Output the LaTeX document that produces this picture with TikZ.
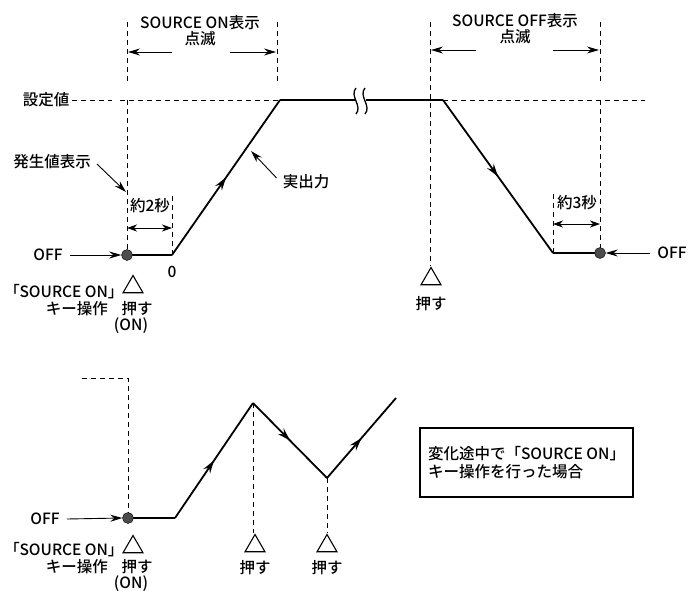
\documentclass[tikz,border=0pt]{standalone}
\usepackage{fontspec}
\setmainfont{Noto Sans CJK JP Medium}
\usetikzlibrary{arrows.meta,decorations.markings,shapes.geometric}

\tikzset{
  guide/.style={line width=1pt, dash pattern=on 5pt off 4pt},
  output/.style={line width=1.8pt, line join=round},
  flow/.style={output, postaction={decorate}, decoration={markings,
      mark=at position 0.5 with {\arrow{Stealth[length=13pt,width=8pt,inset=4.5pt]}}}},
  pointer/.style={line width=0.9pt, -{Stealth[length=12pt,width=7pt,inset=4pt]}},
  span/.style={line width=0.9pt, {Stealth[length=10pt,width=7pt,inset=3pt]}-{Stealth[length=10pt,width=7pt,inset=3pt]}},
  label/.style={font=\fontsize{15.5}{18}\selectfont, inner sep=1pt, align=center},
  keyname/.style={label, anchor=east, font=\fontsize{15.5}{18}\selectfont\addfontfeature{RawFeature=+palt}},
  press/.style={regular polygon, regular polygon sides=3, draw, line width=1.1pt,
      minimum size=23pt, inner sep=0pt},
  lamp/.style={circle, fill=black!70, draw=black, inner sep=0pt, minimum size=11pt},
}

\begin{document}
\begin{tikzpicture}[x=1pt, y=-1pt]
  \useasboundingbox (0,0) rectangle (692,594);

  % ---- upper chart ----
  \coordinate (on) at (127,255);
  \coordinate (start) at (172,255);
  \coordinate (rise) at (280,100);
  \coordinate (fall) at (443,100);
  \coordinate (stop) at (553,253);
  \coordinate (off) at (600,253);

  \draw[output] (on) -- (start);
  \draw[flow] (start) -- (rise);
  \draw[output] (rise) -- (356,100);
  \draw[output] (366,100) -- (fall);
  \draw[line width=1.3pt] (356,88) .. controls (349,96) and (363,106) .. (356,114);
  \draw[line width=1.3pt] (365,88) .. controls (358,96) and (372,106) .. (365,114);
  \draw[flow] (fall) -- (stop);
  \draw[output] (stop) -- (off);

  % guide lines
  \draw[guide] (127,22) -- (127,82);
  \draw[guide] (127,100) -- (on);
  \draw[guide] (277,22) -- (277,82);
  \draw[guide] (120,100) -- (rise);
  \draw[guide] (72,100) -- (112,100);
  \draw[guide] (172,196) -- (start);
  \draw[guide] (430,22) -- (430,266);
  \draw[guide] (600,22) -- (600,82);
  \draw[guide] (600,100) -- (off);
  \draw[guide] (fall) -- (645,100);
  \draw[guide] (553,194) -- (stop);

  \node[lamp] (ondot) at (on) {};
  \node[lamp] (offdot) at (off) {};

  % labels
  \node[label] (ontext) at (200,31) {SOURCE ON表示\\[-2pt]点滅};
  \draw[pointer] (172,52) -- (128,52);
  \draw[pointer] (230,52) -- (276,52);
  \node[label] (offtext) at (515,29) {SOURCE OFF表示\\[-2pt]点滅};
  \draw[pointer] (476,50) -- (431,50);
  \draw[pointer] (553,50) -- (599,50);

  \node[label] (setval) at (46,100) {設定値};
  \node[label] (genval) at (52,162) {発生値表示};
  \draw[pointer] (genval.east) ++(5,2) -- (126,192);
  \node[label] (actual) at (306,182) {実出力};
  \draw[pointer] (actual.west) ++(-5,-4) -- (251,151);

  \node[label] (delay2) at (150,206) {約2秒};
  \draw[span] (127,228) -- (172,228);
  \node[label] (delay3) at (577,203) {約3秒};
  \draw[span] (553,224) -- (600,224);
  \node[label] (zero) at (172,272) {0};

  \node[label] (offl) at (48,255) {OFF};
  \draw[pointer] (offl.east) ++(6,0) -- (ondot.west);
  \node[label] (offr) at (672,253) {OFF};
  \draw[pointer] (offr.west) ++(-6,0) -- (offdot.east);

  \node[keyname] (key1) at (117,292) {「SOURCE ON」};
  \node[label, anchor=east] (op1) at (109,309) {キー操作};
  \node[press] (tri1) at (133,287) {};
  \node[label] (push1) at (137,309) {押す};
  \node[label] (paren1) at (131,326) {(ON)};
  \node[press] (tri2) at (431,279) {};
  \node[label] (push2) at (431,304) {押す};

  % ---- lower chart ----
  \coordinate (on2) at (128,518);
  \coordinate (start2) at (175,518);
  \coordinate (peak) at (253,403);
  \coordinate (valley) at (327,478);
  \coordinate (last) at (396,398);

  \draw[guide] (82,378) -- (128,378) -- (on2);
  \draw[guide] (peak) -- (253,533);
  \draw[guide] (valley) -- (327,533);

  \draw[output] (on2) -- (start2);
  \draw[flow] (start2) -- (peak);
  \draw[flow] (peak) -- (valley);
  \draw[flow] (valley) -- (last);
  \node[lamp] (ondot2) at (on2) {};

  \node[label] (offl2) at (45,519) {OFF};
  \draw[pointer] (offl2.east) ++(6,0) -- (ondot2.west);
  \node[keyname] (key2) at (117,550) {「SOURCE ON」};
  \node[label, anchor=east] (op2) at (109,567) {キー操作};
  \node[press] (tri3) at (133,547) {};
  \node[label] (push3) at (137,567) {押す};
  \node[label] (paren3) at (131,584) {(ON)};
  \node[press] (tri4) at (255,546) {};
  \node[label] (push4) at (255,568) {押す};
  \node[press] (tri5) at (327,546) {};
  \node[label] (push5) at (327,568) {押す};

  \node[draw, line width=1.2pt, minimum width=213pt, minimum height=69pt,
        label, align=left] (note) at (526.5,462.5)
        {変化途中で「SOURCE ON」\\キー操作を行った場合};
\end{tikzpicture}
\end{document}
